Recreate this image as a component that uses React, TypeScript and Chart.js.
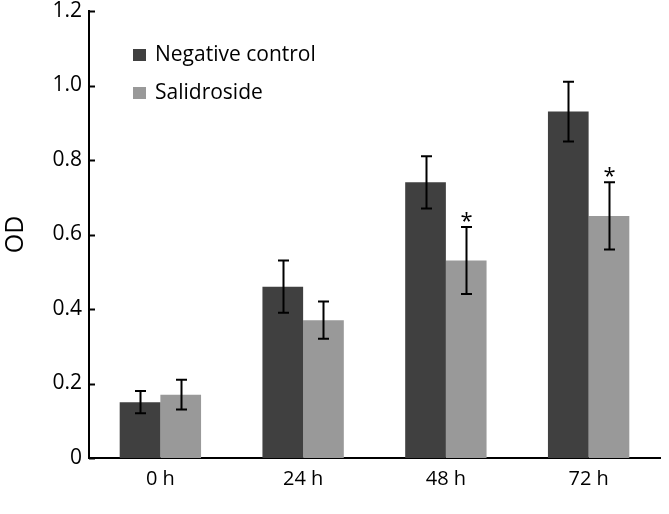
import React, { useEffect, useRef } from "react";
import { Chart, registerables } from "chart.js";

Chart.register(...registerables);

const categories = ["0 h", "24 h", "48 h", "72 h"];
const seriesNames = ["Negative control", "Salidroside"];
const negativeMeans = [0.15, 0.46, 0.74, 0.93];
const negativeErrors = [0.03, 0.07, 0.07, 0.08];
const salidrosideMeans = [0.17, 0.37, 0.53, 0.65];
const salidrosideErrors = [0.04, 0.05, 0.09, 0.09];
const salidrosideSignificant = [false, false, true, true];
const yTickLabels = ["0", "0.2", "0.4", "0.6", "0.8", "1.0", "1.2"];

const DARK = "#404040";
const LIGHT = "#999999";
const FONT = "'Open Sans', 'DejaVu Sans', sans-serif";

const errorBarPlugin = {
  id: "errorBars",
  afterDatasetsDraw(chart: any) {
    const ctx = chart.ctx;
    const yScale = chart.scales.y;
    const errs = [negativeErrors, salidrosideErrors];
    const means = [negativeMeans, salidrosideMeans];
    ctx.save();
    ctx.strokeStyle = "#000";
    ctx.lineWidth = 2;
    for (let i = 0; i < 2; i++) {
      const meta = chart.getDatasetMeta(i);
      meta.data.forEach((bar: any, j: number) => {
        const x = Math.round(bar.x) + 0.5;
        const yt = yScale.getPixelForValue(means[i][j] + errs[i][j]);
        const yb = yScale.getPixelForValue(means[i][j] - errs[i][j]);
        ctx.beginPath();
        ctx.moveTo(x, yt);
        ctx.lineTo(x, yb);
        ctx.moveTo(x - 5.5, yt);
        ctx.lineTo(x + 5.5, yt);
        ctx.moveTo(x - 5.5, yb);
        ctx.lineTo(x + 5.5, yb);
        ctx.stroke();
        if (i === 1 && salidrosideSignificant[j]) {
          ctx.fillStyle = "#000";
          ctx.font = `22px ${FONT}`;
          ctx.textAlign = "center";
          ctx.textBaseline = "alphabetic";
          ctx.fillText("*", x, yt + 1);
        }
      });
    }
    // inside ticks on y axis
    const left = chart.chartArea.left;
    yScale.ticks.forEach((t: any) => {
      const y = Math.round(yScale.getPixelForValue(t.value)) + 0.5;
      ctx.beginPath();
      ctx.moveTo(left, y);
      ctx.lineTo(left + 6, y);
      ctx.stroke();
    });
    ctx.restore();
  },
  afterDraw(chart: any) {
    const ctx = chart.ctx;
    const left = chart.chartArea.left;
    const top = chart.chartArea.top;
    const colors = [DARK, LIGHT];
    ctx.save();
    ctx.font = `21px ${FONT}`;
    ctx.textBaseline = "middle";
    ctx.textAlign = "left";
    seriesNames.forEach((name, i) => {
      const cy = top + 44 + i * 38;
      ctx.fillStyle = colors[i];
      ctx.fillRect(left + 44, cy - 6, 13, 12);
      ctx.fillStyle = "#000";
      ctx.fillText(name, left + 66, cy);
    });
    ctx.restore();
  },
};

export default function App() {
  const ref = useRef<HTMLCanvasElement>(null);
  useEffect(() => {
    document.body.style.margin = "0";
    const chart = new Chart(ref.current as HTMLCanvasElement, {
      type: "bar",
      data: {
        labels: categories,
        datasets: [
          {
            label: seriesNames[0],
            data: negativeMeans,
            backgroundColor: DARK,
            categoryPercentage: 0.57,
            barPercentage: 1.0,
          },
          {
            label: seriesNames[1],
            data: salidrosideMeans,
            backgroundColor: LIGHT,
            categoryPercentage: 0.57,
            barPercentage: 1.0,
          },
        ],
      },
      options: {
        responsive: false,
        animation: false,
        layout: { padding: { top: 11, right: 9, bottom: 0, left: 0 } },
        plugins: { legend: { display: false }, tooltip: { enabled: false } },
        scales: {
          x: {
            grid: { display: false, drawTicks: false },
            border: { color: "#000", width: 2 },
            ticks: { color: "#000", font: { family: FONT, size: 20 }, padding: 9 },
            afterFit: (s: any) => {
              s.height = 56;
              s.paddingLeft = 0;
              s.paddingRight = 0;
            },
          },
          y: {
            min: 0,
            max: 1.2,
            grid: { display: false, drawTicks: false },
            border: { color: "#000", width: 2 },
            ticks: {
              stepSize: 0.2,
              color: "#000",
              font: { family: FONT, size: 21 },
              padding: 7,
              callback: (_v: any, i: number) => yTickLabels[i],
            },
            title: {
              display: true,
              text: "OD",
              color: "#000",
              font: { family: FONT, size: 25 },
              padding: { top: 1, bottom: 0 },
            },
            afterFit: (s: any) => {
              s.width = 89;
              s.paddingTop = 0;
              s.paddingBottom = 0;
            },
          },
        },
      },
      plugins: [errorBarPlugin],
    });
    return () => chart.destroy();
  }, []);
  return (
    <div style={{ position: "absolute", left: 0, top: 0, width: 669, height: 514 }}>
      <canvas ref={ref} width={669} height={514} />
    </div>
  );
}
